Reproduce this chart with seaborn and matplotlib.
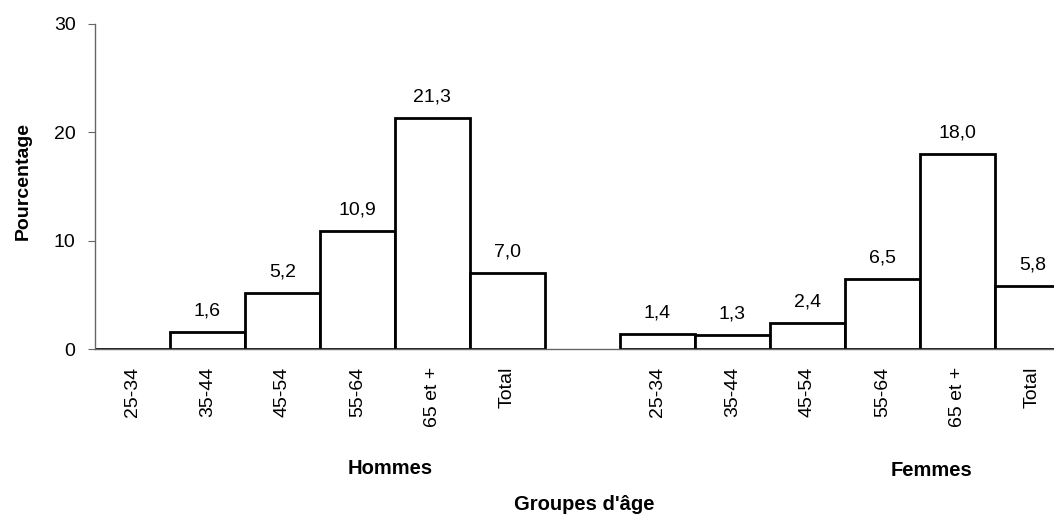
import matplotlib
matplotlib.use("Agg")
import matplotlib.pyplot as plt
import numpy as np
import pandas as pd
import seaborn as sns

age_groups = ["25-34", "35-44", "45-54", "55-64", "65 et +", "Total"]
hommes = [0.0, 1.6, 5.2, 10.9, 21.3, 7.0]
femmes = [1.4, 1.3, 2.4, 6.5, 18.0, 5.8]

sns.set_theme(style="white", rc={"text.color": "black",
                                 "xtick.color": "black",
                                 "ytick.color": "black",
                                 "axes.labelcolor": "black"})
plt.rcParams["font.family"] = ["Liberation Sans", "DejaVu Sans"]

# one slot per bar, with an empty slot between the two groups
slots = [f"H {a}" for a in age_groups] + ["gap"] + [f"F {a}" for a in age_groups]
values = hommes + [np.nan] + femmes
df = pd.DataFrame({"slot": slots, "pct": values})

fig = plt.figure(figsize=(10.54, 5.17), dpi=100)
ax = fig.add_axes([95 / 1054, 1 - 349 / 517, 1 - 95 / 1054, (349 - 24) / 517])

sns.barplot(data=df, x="slot", y="pct", order=slots, width=1.0,
            color="white", edgecolor="black", linewidth=2.0, ax=ax)

for i, v in enumerate(values):
    if np.isnan(v) or v == 0:
        continue
    ax.text(i, v + 1.5, f"{v:.1f}".replace(".", ","), ha="center",
            va="baseline", fontsize=14)

ax.set_xlim(-0.5, 12.29)
ax.set_ylim(0, 30)
ax.set_yticks([0, 10, 20, 30])
ax.tick_params(axis="y", which="both", left=True, length=5, width=0.8,
               color="#666666", labelsize=14, pad=9)
ax.tick_params(axis="x", bottom=True, length=0, labelsize=14, pad=13)
ax.set_xticks(range(len(slots)))
ax.set_xticklabels(age_groups + [""] + age_groups, rotation=90, va="top")

for s in ["top", "right"]:
    ax.spines[s].set_visible(False)
for s in ["left", "bottom"]:
    ax.spines[s].set_color("#666666")
    ax.spines[s].set_linewidth(1.0)

ax.set_xlabel("")
ax.set_ylabel("")
fig.text(23 / 1054, 1 - 181 / 517, "Pourcentage", rotation=90, ha="center",
         va="center", fontsize=14, fontweight="bold")
fig.text(390 / 1054, 1 - 468 / 517, "Hommes", ha="center", va="center",
         fontsize=14.5, fontweight="bold")
fig.text(931 / 1054, 1 - 470 / 517, "Femmes", ha="center", va="center",
         fontsize=14.5, fontweight="bold")
fig.text(584 / 1054, 1 - 505 / 517, "Groupes d'âge", ha="center", va="center",
         fontsize=14.5, fontweight="bold")

fig.savefig("out.png", dpi=100)
